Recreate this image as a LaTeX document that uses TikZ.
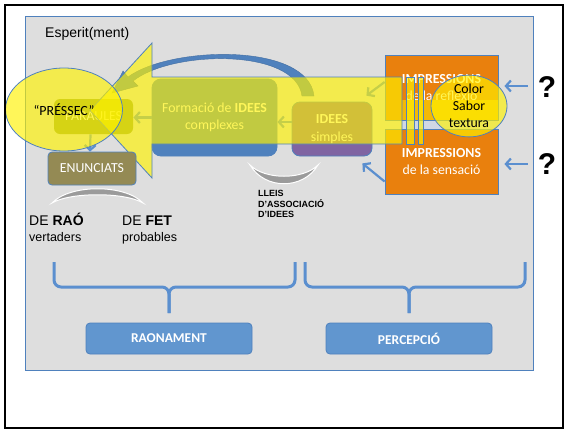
\documentclass[tikz,border=0pt]{standalone}
\usepackage{fontspec}
\setmainfont{Carlito}
\newfontfamily\arialf{Liberation Sans}
\usetikzlibrary{shapes.geometric,arrows.meta,calc}
\definecolor{panelgrey}{RGB}{222,222,222}
\definecolor{myblue}{RGB}{79,129,189}
\definecolor{lblue}{RGB}{91,143,207}
\definecolor{bxblue}{RGB}{97,150,207}
\definecolor{myorange}{RGB}{233,128,13}
\definecolor{olivebox}{RGB}{140,155,60}
\definecolor{mypurple}{RGB}{128,100,162}
\definecolor{khaki}{RGB}{148,138,84}
\definecolor{cres}{RGB}{155,155,155}
\definecolor{gapc}{RGB}{208,215,228}
\begin{document}
\begin{tikzpicture}[x=1pt,y=-1pt,
  box/.style={draw=myblue, line width=0.8pt, rounded corners=6pt, text=white,
    font=\fontsize{13.8}{17.5}\selectfont, align=center, inner sep=0pt},
  obox/.style={draw=myblue, line width=0.8pt, fill=myorange, text=white,
    font=\fontsize{13.8}{17.5}\selectfont, align=center, inner sep=0pt,
    minimum width=113pt, minimum height=65pt},
  bbox/.style={draw=myblue, line width=0.8pt, fill=bxblue, rounded corners=4pt, text=white,
    font=\bfseries\fontsize{13.5}{16}\selectfont, inner sep=0pt,
    minimum width=166pt, minimum height=31pt},
  arr/.style={-{Straight Barb[length=5pt,width=11pt]}, line width=2.2pt, draw=lblue},
  yel/.style={fill=yellow, fill opacity=0.65, text opacity=1, draw=myblue, line width=0.8pt},
  brace/.style={draw=lblue, line width=3pt, rounded corners=7pt},
  cresc/.style={fill=cres, draw=white, line width=1pt},
  arialtxt/.style={font=\arialf\fontsize{14}{16}\selectfont, inner sep=0pt},
  smalltxt/.style={font=\arialf\fontsize{12.5}{16}\selectfont, inner sep=0pt},
  qmark/.style={font=\arialf\bfseries\fontsize{30}{32}\selectfont, inner sep=0pt}
]
\path[use as bounding box, fill=white] (0,0) rectangle (564,429);
% panel
\draw[fill=panelgrey, draw=myblue, line width=0.8pt] (25,16) rectangle (533,370);
\node[arialtxt, anchor=base west] (esp) at (45,37) {Esperit(ment)};

% curved arrow (behind yellow arrow)
\filldraw[fill=myblue, draw=myblue!85!black, line width=0.4pt]
  (314,96) .. controls (308,42) and (170,46) .. (128,77) -- (123,71) -- (112,93)
  -- (138,86) -- (133,81) .. controls (172,50) and (296,48) .. (302,96) -- cycle;

% boxes under the yellow arrow
\node[box, fill=olivebox, draw=none, minimum width=79pt, minimum height=35pt] (par) at (93.5,116.5) {PARAULES};
\node[box, fill=myblue, rounded corners=9pt, minimum width=125pt, minimum height=77pt] (form) at (214.5,117.5) {Formació de \textbf{IDEES}\\complexes};
\node[box, fill=mypurple, rounded corners=8pt, minimum width=80pt, minimum height=54pt] (simp) at (332,129) {\textbf{IDEES}\\simples};
\fill[gapc] (402,120) rectangle (498,129);
\node[obox] (refl) at (441.5,87.5) {\textbf{IMPRESSIONS}\\de la reflexió};
\node[obox] (sens) at (441.5,161.5) {\textbf{IMPRESSIONS}\\de la sensació};
\fill[yellow, fill opacity=0.5] (402,100) rectangle (498,119.6);

% arrows under the yellow arrow
\draw[arr] ([yshift=7pt]simp.west) -- ([yshift=7pt]simp.west -| form.east);
\draw[arr] (form.west) -- (form.west -| par.east);
\draw[arr] ([yshift=5.5pt]refl.west) -- ([xshift=-6pt,yshift=6pt]simp.north east);

% big yellow striped arrow
\path[yel] (402,77) -- (152,77) -- (152,43) -- (90,110.5) -- (152,178) -- (152,144) -- (402,144) -- cycle;
\path[yel] (406,77) rectangle (414,144);
\path[yel] (418,77) rectangle (423,144);

% ENUNCIATS
\node[box, fill=khaki, rounded corners=4pt, minimum width=88pt, minimum height=33pt] (enun) at (92,168.5) {ENUNCIATS};
\draw[arr] ([xshift=-3pt]par.south) -- ([xshift=-2pt]enun.north);

% ellipses
\node[ellipse, yel, minimum width=117pt, minimum height=83pt, inner sep=0pt,
  font=\fontsize{14}{16}\selectfont] (press) at (64,109.5) {“PRÉSSEC”};
\node[ellipse, yel, minimum width=76pt, minimum height=57pt, inner sep=0pt, align=center,
  font=\fontsize{13.8}{17}\selectfont] (col) at (469,106) {Color\\Sabor\\textura};

% crescents
\path[cresc] (52,203) .. controls (70,184) and (125,184) .. (143,203)
  .. controls (125,192) and (70,192) .. (52,203) -- cycle;
\path[cresc] (250,165) .. controls (265,190) and (303,190) .. (318,165)
  .. controls (303,180) and (265,180) .. (250,165) -- cycle;

% texts
\node[arialtxt, anchor=base west] (raot) at (29,225) {DE \textbf{RAÓ}};
\node[smalltxt, anchor=base west] (vert) at (29,241) {vertaders};
\node[arialtxt, anchor=base west] (fett) at (122,225) {DE \textbf{FET}};
\node[smalltxt, anchor=base west] (prob) at (122,241) {probables};
\node[anchor=north west, align=left, inner sep=0pt,
  font=\arialf\bfseries\fontsize{9}{10.5}\selectfont] (lleis) at (258,190.5)
  {LLEIS\\D’ASSOCIACIÓ\\D’IDEES};

% question marks and arrows
\node[qmark] (q1) at (547,87) {?};
\node[qmark] (q2) at (547,164) {?};
\draw[arr] ([xshift=-10pt,yshift=1pt]q1.west) -- ([xshift=6pt,yshift=1pt]q1.west -| refl.east);
\draw[arr] ([xshift=-10pt]q2.west) -- ([xshift=6pt]q2.west -| sens.east);
\draw[arr] ([yshift=-20pt]sens.west) -- ([xshift=-10pt,yshift=-7pt]simp.south east);

% braces
\draw[brace] (54,262) -- (54,287) -- (169,287) -- (169,313);
\draw[brace] (295,262) -- (295,287) -- (169,287) -- (169,313);
\draw[brace] (305,262) -- (305,287) -- (409,287) -- (409,313);
\draw[brace] (525,262) -- (525,287) -- (409,287) -- (409,313);

\node[bbox] (rao) at (169,338.5) {RAONAMENT};
\node[bbox] (perc) at (409,338.5) {PERCEPCIÓ};

% outer frame
\draw[black, line width=2pt] (5,5) rectangle (563,428);
\end{tikzpicture}
\end{document}
